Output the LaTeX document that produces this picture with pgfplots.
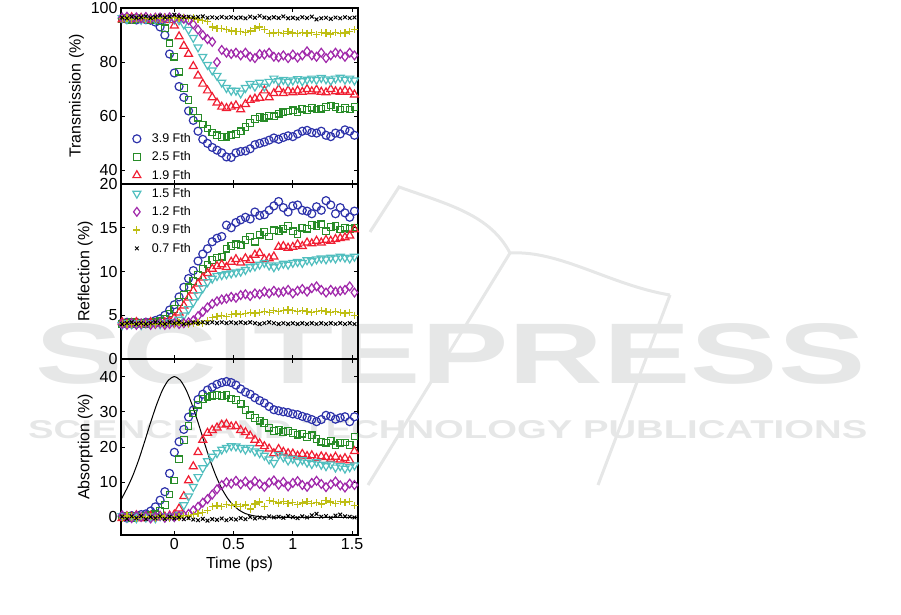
\documentclass[border=0pt]{standalone}
\usepackage{fontspec}
\setmainfont{Liberation Sans}
\usepackage{pgfplots}
\usepackage{pgfplotstable}
\pgfplotsset{compat=1.18}

\definecolor{cB}{RGB}{45,50,170}
\definecolor{cG}{RGB}{40,140,40}
\definecolor{cR}{RGB}{240,30,50}
\definecolor{cC}{RGB}{80,190,190}
\definecolor{cM}{RGB}{160,40,170}
\definecolor{cY}{RGB}{190,190,20}
\definecolor{wm}{RGB}{230,231,231}

\pgfplotstableread{
x T39 T25 T19 T15 T12 T09 T07
-0.44 96.2 96.0 95.8 96.3 96.5 96.1 96.5
-0.40 95.8 96.4 96.2 95.9 96.8 96.3 96.2
-0.36 96.0 95.7 96.5 96.2 96.1 95.8 96.8
-0.32 95.6 96.2 95.9 96.4 96.6 96.0 96.4
-0.28 96.1 95.8 96.3 95.7 96.2 96.4 96.6
-0.24 95.7 96.1 95.6 96.1 96.7 96.2 96.9
-0.20 95.5 95.6 96.0 96.3 96.0 95.9 96.3
-0.16 94.8 95.9 96.2 95.8 96.4 96.3 96.7
-0.12 93.0 95.0 95.7 96.2 96.5 96.0 97.2
-0.08 90.0 92.5 96.1 96.0 96.2 96.4 96.5
-0.04 83.0 87.0 95.5 96.3 96.6 96.1 96.8
0.00 76.0 82.0 93.5 95.8 96.1 96.5 97.5
0.04 71.0 76.5 89.5 95.5 96.4 96.2 96.9
0.08 67.0 70.5 86.0 94.0 96.0 96.4 96.6
0.12 62.0 66.0 83.0 92.0 95.5 96.1 96.8
0.16 58.5 62.0 78.5 89.0 94.0 96.3 96.5
0.20 54.5 59.5 75.0 85.5 92.0 95.9 96.7
0.24 51.5 57.0 72.0 82.0 90.0 95.5 96.9
0.28 50.0 55.5 69.5 79.0 88.5 95.0 96.4
0.32 48.5 54.0 67.0 77.0 87.5 93.0 96.6
0.36 47.5 53.0 65.0 75.0 80.0 92.5 96.3
0.40 46.5 52.3 63.5 72.5 84.5 92.3 96.7
0.44 45.0 52.5 63.0 70.5 83.5 92.0 96.4
0.48 44.8 53.0 63.5 69.5 83.0 91.5 96.6
0.52 46.5 53.5 64.0 69.5 83.5 91.2 96.3
0.56 47.0 54.5 62.5 68.5 82.5 91.3 96.5
0.60 47.2 56.0 64.5 70.5 83.5 91.0 96.2
0.64 48.0 57.5 66.0 72.0 82.0 91.5 96.8
0.68 49.5 59.0 66.5 71.0 81.5 92.5 96.4
0.72 50.0 59.8 66.8 72.5 83.0 93.0 97.1
0.76 50.5 59.5 69.5 71.0 82.8 92.0 96.5
0.80 51.2 60.2 67.0 72.8 83.5 90.5 96.2
0.84 52.0 60.0 68.5 74.0 82.0 90.8 96.6
0.88 51.5 61.0 70.0 73.0 81.8 91.0 96.3
0.92 52.2 61.5 68.5 73.5 82.5 90.6 96.9
0.96 52.8 61.8 69.5 72.8 81.5 91.2 96.2
1.00 52.5 62.2 68.8 73.3 82.8 90.8 96.4
1.04 53.5 61.5 69.5 73.8 81.7 90.5 96.1
1.08 54.5 62.8 69.0 73.0 82.5 91.0 96.6
1.12 54.8 62.3 70.0 73.6 84.0 90.7 96.3
1.16 54.0 63.2 69.2 74.0 82.5 90.9 96.8
1.20 53.8 62.5 69.8 73.5 82.0 90.3 95.8
1.24 54.5 62.8 69.0 74.2 83.5 91.0 96.2
1.28 53.0 63.5 68.8 73.7 81.5 90.8 96.4
1.32 52.5 64.0 70.0 73.2 82.5 90.4 96.0
1.36 53.8 63.5 69.2 74.0 83.5 91.0 96.5
1.40 53.5 62.5 69.0 74.3 83.0 90.6 96.2
1.44 55.0 63.0 69.5 73.6 82.0 90.8 96.6
1.48 54.5 62.5 69.0 74.0 83.5 91.2 96.3
1.52 53.0 63.5 68.0 73.3 82.5 92.0 96.5
}\trans

\pgfplotstableread{
x R39 R25 R19 R15 R12 R09 R07
-0.44 4.1 4.0 4.2 3.9 4.0 4.1 4.0
-0.40 4.2 4.1 4.0 4.1 3.9 4.0 4.1
-0.36 4.0 4.2 4.1 4.0 4.1 3.9 4.2
-0.32 4.2 4.0 4.2 4.1 3.9 4.1 4.0
-0.28 4.1 4.1 4.0 3.9 4.0 4.0 4.1
-0.24 4.2 4.0 4.1 4.1 4.1 4.1 4.0
-0.20 4.2 4.1 4.2 4.0 3.9 3.9 4.1
-0.16 4.4 4.2 4.0 4.1 4.0 4.0 4.2
-0.12 4.6 4.3 4.1 4.0 4.1 4.1 4.1
-0.08 5.0 4.6 4.2 4.1 3.9 4.0 4.0
-0.04 5.6 5.2 4.3 4.2 4.0 4.1 4.2
0.00 6.2 5.7 4.7 4.2 4.1 4.0 4.1
0.04 7.1 6.5 5.3 4.5 4.0 4.2 4.2
0.08 8.2 7.3 6.1 5.0 4.1 4.1 4.0
0.12 9.2 8.2 7.0 5.7 4.2 4.0 4.1
0.16 10.1 8.9 7.8 6.5 4.4 4.1 4.2
0.20 11.2 9.6 8.6 7.3 4.9 4.2 4.1
0.24 12.0 10.3 9.3 8.1 5.4 4.1 4.2
0.28 12.6 10.8 9.8 8.8 5.9 4.4 4.1
0.32 13.4 11.3 10.3 9.2 6.3 4.7 4.2
0.36 13.8 11.6 10.6 9.5 6.6 4.9 4.1
0.40 14.0 11.7 10.8 9.6 6.8 5.0 4.2
0.44 15.3 12.6 10.5 9.7 6.9 4.9 4.1
0.48 15.0 12.9 11.1 9.8 7.1 5.1 4.2
0.52 15.6 13.1 11.4 9.9 7.0 5.2 4.1
0.56 15.9 13.0 11.0 10.0 7.3 5.1 4.2
0.60 16.2 13.6 11.5 10.2 7.4 5.2 4.1
0.64 16.0 14.0 11.3 10.5 7.2 5.3 4.2
0.68 16.8 13.4 11.9 10.6 7.5 5.2 4.1
0.72 16.4 14.2 12.1 10.8 7.4 5.3 4.0
0.76 16.5 14.5 11.4 11.0 7.7 5.4 4.1
0.80 17.0 14.0 11.5 10.7 7.5 5.3 4.2
0.84 17.5 14.7 11.7 10.5 7.8 5.5 4.1
0.88 18.0 14.6 12.8 10.7 7.6 5.4 4.0
0.92 17.3 14.9 12.9 10.9 7.7 5.5 4.1
0.96 16.8 15.2 12.7 10.8 7.9 5.6 4.0
1.00 17.5 14.6 12.8 11.0 7.5 5.5 4.1
1.04 17.6 14.3 13.1 11.1 7.8 5.4 4.0
1.08 17.0 15.0 12.9 11.0 8.0 5.5 4.1
1.12 16.9 14.9 13.3 11.3 7.7 5.4 4.0
1.16 16.6 15.3 13.2 11.2 8.1 5.3 4.1
1.20 17.4 15.2 13.5 11.4 8.3 5.4 4.0
1.24 17.0 15.4 13.3 11.5 7.9 5.5 4.1
1.28 18.1 14.6 13.6 11.4 7.6 5.4 4.0
1.32 17.6 15.1 13.5 11.6 7.9 5.3 4.1
1.36 16.6 15.2 13.7 11.5 7.7 5.4 4.0
1.40 17.3 14.8 13.8 11.7 7.8 5.3 4.1
1.44 16.7 15.0 13.9 11.6 7.9 5.2 4.0
1.48 16.2 14.9 14.1 11.5 8.3 5.3 4.1
1.52 16.9 15.0 14.8 11.7 7.6 5.0 4.0
}\refl

\pgfplotstableread{
x A39 A25 A19 A15 A12 A09 A07
-0.44 0.3 0.1 -0.2 0.4 0.6 -0.3 0.2
-0.40 -0.2 0.5 0.3 -0.1 0.2 0.4 -0.4
-0.36 0.5 -0.3 0.1 0.3 -0.2 0.1 0.3
-0.32 0.1 0.4 0.6 -0.2 0.5 -0.4 -0.2
-0.28 0.8 0.0 -0.3 0.5 0.1 0.3 0.4
-0.24 1.0 0.3 0.2 0.0 0.4 -0.1 -0.5
-0.20 1.8 0.6 0.4 0.3 -0.3 0.2 0.1
-0.16 3.0 0.9 -0.1 -0.2 0.2 -0.3 -0.2
-0.12 4.9 1.8 0.3 0.4 0.5 0.4 0.3
-0.08 7.3 3.5 0.2 0.1 -0.1 0.0 -0.4
-0.04 12.5 6.5 0.5 0.3 0.3 -0.2 0.2
0.00 18.5 10.5 0.8 0.2 0.1 0.3 -0.3
0.04 21.5 16.5 2.5 0.8 0.4 0.1 0.0
0.08 25.0 22.0 6.0 3.5 0.6 0.5 -0.5
0.12 28.5 26.0 10.5 6.0 1.0 0.4 -0.2
0.16 30.5 29.5 14.5 8.7 2.0 0.8 -0.6
0.20 33.5 32.0 18.5 11.5 3.0 1.2 -0.8
0.24 35.0 33.6 22.0 14.0 4.2 1.5 -0.4
0.28 36.2 34.3 24.0 16.0 5.2 2.0 -0.9
0.32 37.0 34.6 24.8 17.3 6.5 3.2 -0.5
0.36 37.8 34.8 25.5 18.3 8.0 3.4 -0.7
0.40 38.3 34.5 26.3 19.3 9.2 3.1 -0.3
0.44 38.6 34.8 26.5 19.8 10.0 3.6 -0.8
0.48 38.3 33.8 25.8 20.3 9.6 3.3 -0.4
0.52 37.6 33.3 25.9 20.2 10.4 3.7 -0.6
0.56 36.5 32.3 24.8 19.8 9.4 3.2 -0.2
0.60 35.6 30.5 24.2 19.3 10.2 3.5 -0.5
0.64 35.0 29.0 23.2 19.8 9.1 2.4 0.1
0.68 34.0 28.2 22.0 18.8 10.3 3.8 -0.3
0.72 33.2 27.5 21.0 18.3 9.5 4.4 0.0
0.76 32.5 26.8 20.2 17.6 8.7 3.2 -0.2
0.80 31.5 25.5 19.5 16.5 9.9 4.9 0.3
0.84 30.6 24.6 18.2 15.5 10.5 4.6 0.0
0.88 30.3 24.8 19.4 17.8 9.3 4.1 0.2
0.92 30.0 24.3 18.6 17.1 10.1 4.5 -0.1
0.96 29.8 24.6 18.2 16.2 8.8 3.9 0.4
1.00 29.4 24.0 18.1 16.7 9.8 4.3 0.1
1.04 29.2 23.5 17.5 15.8 10.3 3.7 -0.2
1.08 28.7 23.8 18.0 16.3 9.2 4.1 0.3
1.12 28.3 22.8 17.4 15.6 8.7 4.5 0.0
1.16 27.8 23.3 17.6 15.2 9.8 3.9 0.6
1.20 27.2 22.3 16.8 15.7 10.4 4.2 1.0
1.24 27.8 21.5 17.3 15.0 9.5 3.8 0.2
1.28 29.0 21.2 17.1 14.6 8.6 4.9 0.4
1.32 28.7 21.8 16.6 15.1 9.4 4.4 -0.1
1.36 27.9 20.5 17.2 14.2 10.2 4.0 0.5
1.40 28.3 21.2 16.4 14.6 9.1 4.6 0.8
1.44 28.6 21.3 16.8 13.9 8.5 4.3 0.3
1.48 27.2 20.6 16.2 14.3 9.6 4.5 0.2
1.52 28.6 23.0 18.8 14.8 9.2 3.4 0.0
}\absor

\pgfplotsset{
  panel/.style={
    width=237pt, scale only axis,
    xmin=-0.45, xmax=1.55,
    xtick={0,0.5,1,1.5},
    tick align=inside,
    major tick length=4pt,
    axis line style={line width=1.3pt},
    every tick/.style={black, line width=0.8pt},
    tick label style={font=\fontsize{16}{19}\selectfont},
    label style={font=\fontsize{16}{19}\selectfont},
    /pgf/number format/assume math mode=true,
  },
  s39/.style={only marks, mark=o, color=cB, mark size=4pt, line width=1.2pt},
  s25/.style={only marks, mark=square, color=cG, mark size=3.3pt, line width=1.2pt},
  s19/.style={only marks, mark=triangle, color=cR, mark size=4.6pt, line width=1.2pt},
  s15/.style={only marks, mark=triangle, mark options={rotate=180}, color=cC, mark size=4.6pt, line width=1.2pt},
  s12/.style={only marks, mark=diamond, color=cM, mark size=4.4pt, line width=1.2pt},
  s09/.style={only marks, mark=+, color=cY, mark size=3.6pt, line width=1.2pt},
  s07/.style={only marks, mark=x, color=black, mark size=2.6pt, line width=1pt},
}

\begin{document}
\begin{tikzpicture}
\path[use as bounding box] (0pt,0pt) rectangle (901pt,-614pt);
% faint publisher watermark
\begin{scope}[wm, line width=3pt]
\draw (370pt,-232pt) -- (399pt,-187pt) .. controls (450pt,-205pt) and (490pt,-215pt) .. (510pt,-253pt)
  .. controls (560pt,-250pt) and (610pt,-285pt) .. (670pt,-295pt);
\draw (510pt,-253pt) -- (368pt,-485pt);
\draw (670pt,-295pt) -- (598pt,-485pt);
\end{scope}
\node[anchor=north west, inner sep=0pt, text=wm] at (35pt,-323pt) {\resizebox{830pt}{60pt}{\bfseries SCITEPRESS}};
\node[anchor=north west, inner sep=0pt, text=wm] at (28pt,-420pt) {\resizebox{839pt}{18pt}{\bfseries SCIENCE AND TECHNOLOGY PUBLICATIONS}};

% Transmission
\begin{axis}[panel, at={(121pt,-184pt)}, anchor=south west, height=176pt,
  ymin=35, ymax=100, ytick={40,60,80,100}, xticklabels={},
  ylabel={Transmission (\%)},
  legend style={at={(0.045,0.305)}, anchor=north west, draw=none, fill=none,
    font=\fontsize{12.5}{14}\selectfont, row sep=3.7pt, inner sep=1pt,
    /tikz/every odd column/.style={column sep=9pt}},
  legend cell align=left]
\addplot[s39] table[x=x,y=T39]{\trans};
\addplot[s25] table[x=x,y=T25]{\trans};
\addplot[s19] table[x=x,y=T19]{\trans};
\addplot[s15] table[x=x,y=T15]{\trans};
\addplot[s12] table[x=x,y=T12]{\trans};
\addplot[s09] table[x=x,y=T09]{\trans};
\addplot[s07] table[x=x,y=T07]{\trans};
\legend{3.9 Fth, 2.5 Fth, 1.9 Fth, 1.5 Fth, 1.2 Fth, 0.9 Fth, 0.7 Fth}
\end{axis}

% Reflection
\begin{axis}[panel, at={(121pt,-359pt)}, anchor=south west, height=175pt,
  ymin=0, ymax=20, ytick={0,5,10,15,20}, xticklabels={},
  ylabel={Reflection (\%)}]
\addplot[s39] table[x=x,y=R39]{\refl};
\addplot[s25] table[x=x,y=R25]{\refl};
\addplot[s19] table[x=x,y=R19]{\refl};
\addplot[s15] table[x=x,y=R15]{\refl};
\addplot[s12] table[x=x,y=R12]{\refl};
\addplot[s09] table[x=x,y=R09]{\refl};
\addplot[s07] table[x=x,y=R07]{\refl};
\end{axis}

% Absorption
\begin{axis}[panel, at={(121pt,-535pt)}, anchor=south west, height=176pt,
  ymin=-5, ymax=45, ytick={0,10,20,30,40},
  xticklabels={0,0.5,1,1.5},
  xlabel={Time (ps)}, ylabel={Absorption (\%)}]
\addplot[black, line width=1pt, smooth, tension=0.4] coordinates {
(-0.45,5.0) (-0.40,8.2) (-0.35,11.9) (-0.30,16.4) (-0.25,21.6) (-0.20,27.0)
(-0.15,32.0) (-0.10,36.2) (-0.05,39.0) (0,40) (0.05,39.0) (0.10,36.2)
(0.15,32.0) (0.20,27.0) (0.25,21.6) (0.30,16.4) (0.35,11.9) (0.40,8.2)
(0.45,5.4) (0.50,3.4) (0.55,2.0) (0.60,1.1) (0.65,0.6) (0.70,0.3)
(0.75,0.15) (0.80,0.07) (0.90,0) (1.20,0) (1.55,0)};
\addplot[s39] table[x=x,y=A39]{\absor};
\addplot[s25] table[x=x,y=A25]{\absor};
\addplot[s19] table[x=x,y=A19]{\absor};
\addplot[s15] table[x=x,y=A15]{\absor};
\addplot[s12] table[x=x,y=A12]{\absor};
\addplot[s09] table[x=x,y=A09]{\absor};
\addplot[s07] table[x=x,y=A07]{\absor};
\end{axis}
\end{tikzpicture}
\end{document}
